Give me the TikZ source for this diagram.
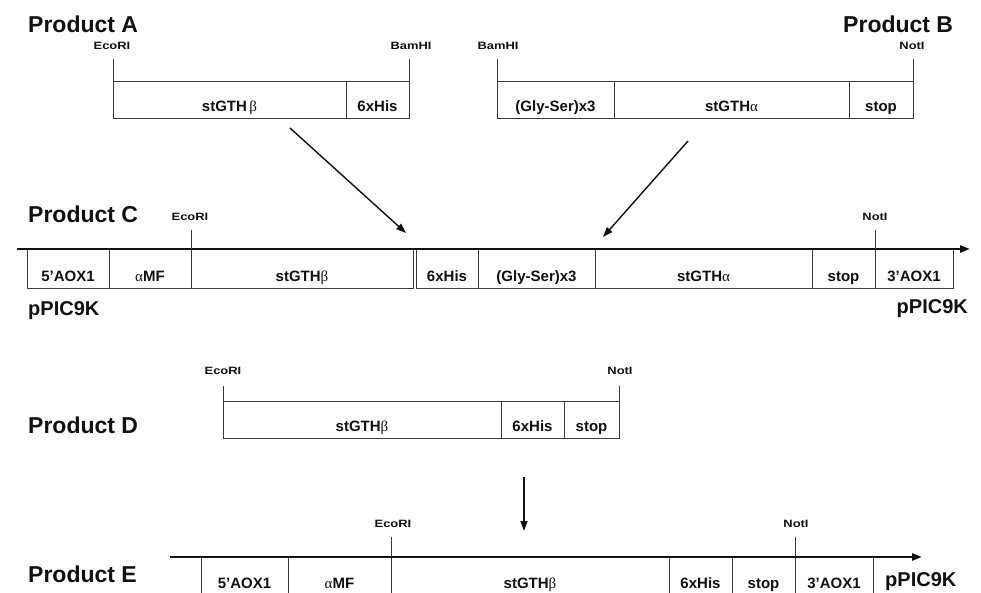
\documentclass[tikz,border=0pt]{standalone}
\usepackage{fontspec}
\setmainfont{Liberation Sans}
\newfontfamily\sitefont[FakeStretch=1.22]{Liberation Sans}
\newfontfamily\gkfont{Liberation Serif}
\usetikzlibrary{arrows.meta}
\newcommand\gk[1]{{\gkfont\mdseries #1}}
\definecolor{linegray}{HTML}{3A3A3A}
\definecolor{inkblack}{HTML}{111111}
\tikzset{
  segbox/.style={draw=linegray, line width=0.9pt, inner sep=0pt},
  seglbl/.style={anchor=base, font=\fontsize{15}{18}\selectfont\bfseries, text=inkblack, inner sep=0pt},
  sitelbl/.style={anchor=base, font=\fontsize{10.6}{12}\selectfont\sitefont\bfseries, text=inkblack, inner sep=0pt},
  prodtitle/.style={anchor=base west, font=\fontsize{23}{27}\selectfont\bfseries, text=inkblack, inner sep=0pt},
  veclbl/.style={font=\fontsize{20}{24}\selectfont\bfseries, text=inkblack, inner sep=0pt},
  sitetick/.style={draw=linegray, line width=0.9pt},
  axisline/.style={draw=inkblack, line width=2.4pt, -{Triangle[length=10pt,width=7pt]}},
  flow/.style={draw=inkblack, line width=1.4pt, -{Triangle[length=10pt,width=7pt]}},
}
% #1 name, #2 x1, #3 x2, #4 ytop, #5 ybottom, #6 text
\newcommand\seg[6]{%
  \pgfmathsetmacro\segw{#3-#2}%
  \pgfmathsetmacro\segh{#5-#4}%
  \pgfmathsetmacro\segx{(#2+#3)/2}%
  \pgfmathsetmacro\segy{(#4+#5)/2}%
  \node[segbox, minimum width=\segw pt, minimum height=\segh pt] (#1) at (\segx,\segy) {};
  \node[seglbl] (#1t) at (\segx,#5-7) {#6};
}
\begin{document}
\begin{tikzpicture}[x=1pt,y=-1pt]
\clip (0,0) rectangle (981,592);
\fill[white] (0,0) rectangle (981,592);

% ---------------- Product A ----------------
\node[prodtitle] (tA) at (28,32) {Product A};
\node[sitelbl] (sA1) at (112,49) {EcoRI};
\node[sitelbl] (sA2) at (411,49) {BamHI};
\seg{a1}{113}{346}{81}{118}{stGTH\,\gk{β}}
\seg{a2}{346}{409}{81}{118}{6xHis}
\coordinate (kA1t) at (113,59); \coordinate (kA1b) at (113,81);
\coordinate (kA2t) at (409,59); \coordinate (kA2b) at (409,81);
\draw[sitetick] (kA1t) -- (kA1b);
\draw[sitetick] (kA2t) -- (kA2b);

% ---------------- Product B ----------------
\node[prodtitle] (tB) at (843,32) {Product B};
\node[sitelbl] (sB1) at (498,49) {BamHI};
\node[sitelbl] (sB2) at (912,49) {NotI};
\seg{b1}{497}{614}{81}{118}{(Gly-Ser)x3}
\seg{b2}{614}{849}{81}{118}{stGTH\gk{α}}
\seg{b3}{849}{913}{81}{118}{stop}
\coordinate (kB1t) at (497,59); \coordinate (kB1b) at (497,81);
\coordinate (kB2t) at (913,59); \coordinate (kB2b) at (913,81);
\draw[sitetick] (kB1t) -- (kB1b);
\draw[sitetick] (kB2t) -- (kB2b);

% arrows A,B -> C
\coordinate (fA1) at (290,128); \coordinate (fA2) at (406,233);
\coordinate (fB1) at (688,141); \coordinate (fB2) at (603,237);
\draw[flow] (fA1) -- (fA2);
\draw[flow] (fB1) -- (fB2);

% ---------------- Product C ----------------
\node[prodtitle] (tC) at (28,222) {Product C};
\node[sitelbl] (sC1) at (190,220) {EcoRI};
\node[sitelbl] (sC2) at (875,220) {NotI};
\seg{c1}{27}{109}{249}{288}{5’AOX1}
\seg{c2}{109}{191}{249}{288}{\gk{α}MF}
\seg{c3}{191}{413}{249}{288}{stGTH\gk{β}}
\seg{c4}{416}{478}{249}{288}{6xHis}
\seg{c5}{478}{595}{249}{288}{(Gly-Ser)x3}
\seg{c6}{595}{812}{249}{288}{stGTH\gk{α}}
\seg{c7}{812}{875}{249}{288}{stop}
\seg{c8}{875}{953}{249}{288}{3’AOX1}
\coordinate (axC1) at (17,249); \coordinate (axC2) at (970,249);
\draw[axisline] (axC1) -- (axC2);
\coordinate (kC1t) at (191,230); \coordinate (kC1b) at (191,249);
\coordinate (kC2t) at (875,230); \coordinate (kC2b) at (875,249);
\draw[sitetick] (kC1t) -- (kC1b);
\draw[sitetick] (kC2t) -- (kC2b);
\node[veclbl, anchor=base west] (vC1) at (28,315) {pPIC9K};
\node[veclbl, anchor=base east] (vC2) at (968,313) {pPIC9K};

% ---------------- Product D ----------------
\node[prodtitle] (tD) at (28,433) {Product D};
\node[sitelbl] (sD1) at (223,374) {EcoRI};
\node[sitelbl] (sD2) at (620,374) {NotI};
\seg{d1}{223}{501}{401}{438}{stGTH\gk{β}}
\seg{d2}{501}{564}{401}{438}{6xHis}
\seg{d3}{564}{619}{401}{438}{stop}
\coordinate (kD1t) at (223,386); \coordinate (kD1b) at (223,401);
\coordinate (kD2t) at (619,386); \coordinate (kD2b) at (619,401);
\draw[sitetick] (kD1t) -- (kD1b);
\draw[sitetick] (kD2t) -- (kD2b);

% arrow D -> E
\coordinate (fD1) at (524,477); \coordinate (fD2) at (524,531);
\draw[flow] (fD1) -- (fD2);

% ---------------- Product E ----------------
\node[prodtitle] (tE) at (28,582) {Product E};
\node[sitelbl] (sE1) at (393,527) {EcoRI};
\node[sitelbl] (sE2) at (796,527) {NotI};
\seg{e1}{201}{288}{557}{595}{5’AOX1}
\seg{e2}{288}{391}{557}{595}{\gk{α}MF}
\seg{e3}{391}{669}{557}{595}{stGTH\gk{β}}
\seg{e4}{669}{732}{557}{595}{6xHis}
\seg{e5}{732}{795}{557}{595}{stop}
\seg{e6}{795}{873}{557}{595}{3’AOX1}
\coordinate (axE1) at (170,557); \coordinate (axE2) at (922,557);
\draw[axisline] (axE1) -- (axE2);
\coordinate (kE1t) at (391,537); \coordinate (kE1b) at (391,557);
\coordinate (kE2t) at (795,537); \coordinate (kE2b) at (795,557);
\draw[sitetick] (kE1t) -- (kE1b);
\draw[sitetick] (kE2t) -- (kE2b);
\node[veclbl, anchor=base west] (vE) at (885,586) {pPIC9K};
\end{tikzpicture}
\end{document}
